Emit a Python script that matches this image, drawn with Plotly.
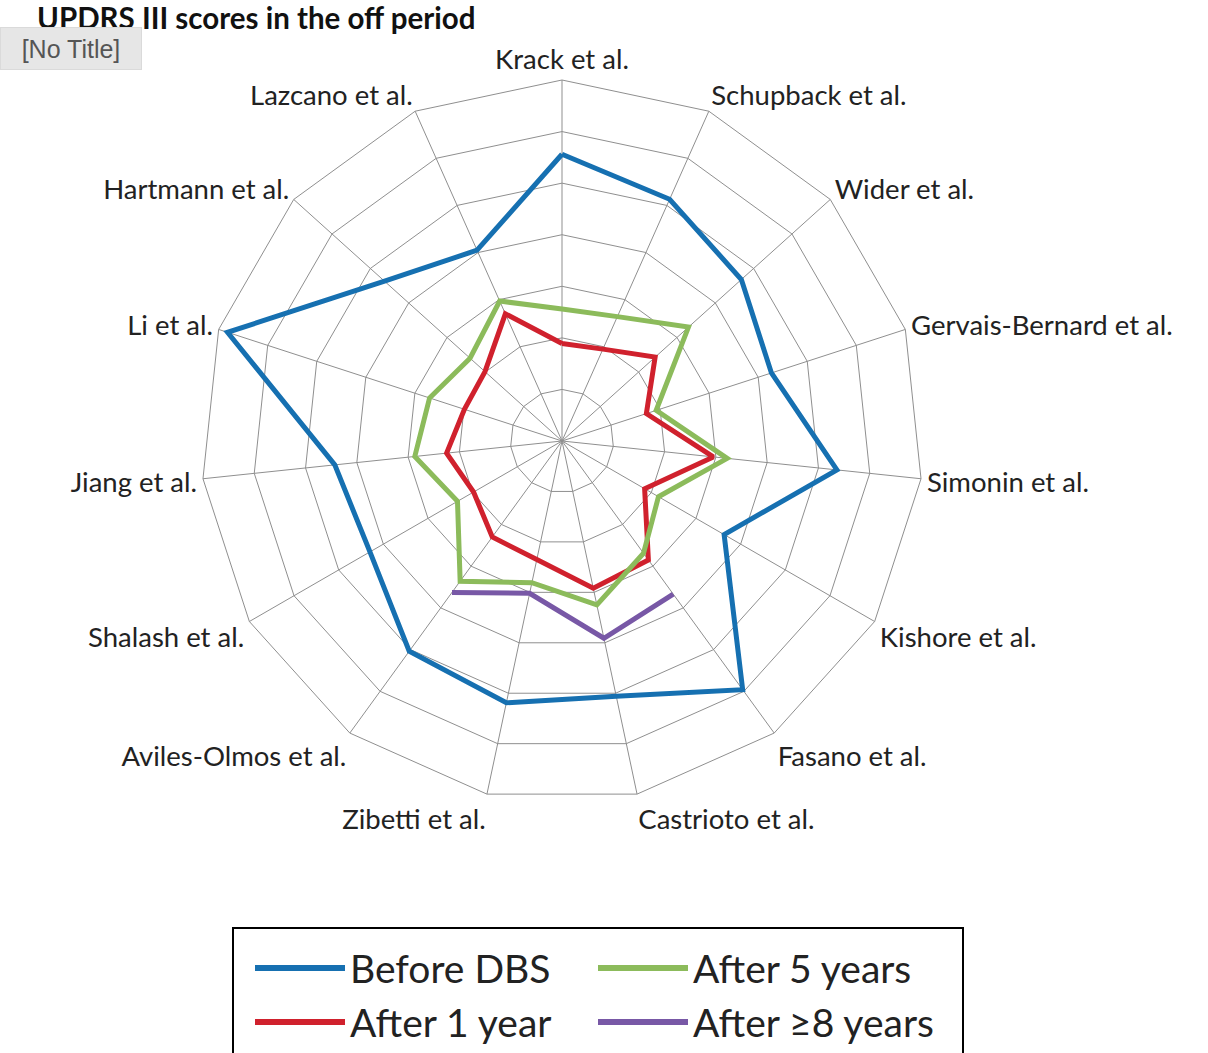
import plotly.graph_objects as go

# Studies around the radar, clockwise from the top
studies = [
    "Krack et al.", "Schupback et al.", "Wider et al.", "Gervais-Bernard et al.",
    "Simonin et al.", "Kishore et al.", "Fasano et al.", "Castrioto et al.",
    "Zibetti et al.", "Aviles-Olmos et al.", "Shalash et al.", "Jiang et al.",
    "Li et al.", "Hartmann et al.", "Lazcano et al.",
]

# UPDRS III (off period) scores per study
before_dbs = [55.6, 51.3, 46.8, 42.7, 53.6, 36.3, 59.6, 50.6, 51.9, 50.4, 43.0, 44.3, 68.2, 46.3, 40.5]
after_1_year = [18.9, 19.5, 24.3, 17.2, 29.5, 18.5, 28.5, 29.2, 23.5, 23.0, 19.8, 22.5, 19.9, 20.1, 27.0]
after_5_years = [25.6, 26.4, 33.0, 19.2, 32.2, 21.6, 26.9, 32.5, 28.1, 33.6, 23.4, 28.7, 27.0, 24.0, 29.7]
after_8_years = [None, None, None, None, None, None, 36.7, 39.1, 30.2, 36.3, None, None, None, None, None]

series_names = ["Before DBS", "After 1 year", "After 5 years", "After \u22658 years"]
series_values = [before_dbs, after_1_year, after_5_years, after_8_years]
series_colors = ["#1670b1", "#d0212d", "#8cbb5b", "#7858a6"]

W, H = 1208, 1053
CX, CY, R = 562, 441, 361   # radar centre and outer radius in pixels


def px_x(x):
    return x / W


def px_y(y):
    return 1 - y / H


fig = go.Figure()
for name, vals, color in zip(series_names, series_values, series_colors):
    fig.add_trace(go.Scatterpolar(
        r=vals + vals[:1],
        theta=studies + studies[:1],
        mode="lines",
        name=name,
        line=dict(color=color, width=5),
        connectgaps=False,
        showlegend=False,
    ))

grid = "#8f8f8f"
fig.update_layout(
    width=W, height=H,
    margin=dict(l=0, r=0, t=0, b=0),
    paper_bgcolor="white",
    plot_bgcolor="white",
    font=dict(family="Lato", color="#222"),
    title=dict(
        text="<b>UPDRS III scores in the off period</b>",
        x=px_x(37), xanchor="left", xref="paper",
        y=px_y(19), yanchor="middle", yref="container",
        font=dict(size=29.5, family="Lato", color="#111"),
    ),
    polar=dict(
        domain=dict(x=[px_x(CX - R), px_x(CX + R)], y=[px_y(CY + R), px_y(CY - R)]),
        gridshape="linear",
        bgcolor="white",
        radialaxis=dict(
            range=[0, 70], dtick=10, showticklabels=False, ticks="",
            showline=False, gridcolor=grid, gridwidth=1,
        ),
        angularaxis=dict(
            type="category", categoryarray=studies,
            direction="clockwise", rotation=90,
            showline=True, linecolor=grid, linewidth=1,
            gridcolor=grid, gridwidth=1, ticks="",
            tickfont=dict(size=27.5, family="Lato", color="#222"),
        ),
    ),
)

# Floating "[No Title]" tag in the upper-left corner
fig.add_annotation(
    xref="paper", yref="paper", x=0, y=px_y(27), xanchor="left", yanchor="top",
    text="[No Title]", showarrow=False,
    font=dict(family="Liberation Sans", size=25, color="#555"),
    bgcolor="#e6e6e6", bordercolor="#dadada", borderwidth=1, borderpad=2,
    width=136, height=37, align="center",
)

# Legend: framed box with two columns of line swatches and labels
box_l, box_r, box_t = 233, 963, 928
fig.add_shape(type="rect", xref="paper", yref="paper",
              x0=px_x(box_l), x1=px_x(box_r), y0=px_y(box_t), y1=px_y(H + 20),
              line=dict(color="black", width=2), fillcolor="rgba(0,0,0,0)")
col_x = [255, 598]
row_y = [968, 1022]
legend_order = [0, 2, 1, 3]   # row-wise: Before DBS, After 5 years / After 1 year, After >=8 years
for slot, idx in enumerate(legend_order):
    cx = col_x[slot % 2]
    cy = row_y[slot // 2]
    fig.add_shape(type="line", xref="paper", yref="paper",
                  x0=px_x(cx), x1=px_x(cx + 90), y0=px_y(cy), y1=px_y(cy),
                  line=dict(color=series_colors[idx], width=6))
    fig.add_annotation(xref="paper", yref="paper", x=px_x(cx + 93), y=px_y(cy),
                       xanchor="left", yanchor="middle", showarrow=False,
                       text=series_names[idx],
                       font=dict(family="Lato", size=39, color="#222"))

fig.write_html("out.html")
